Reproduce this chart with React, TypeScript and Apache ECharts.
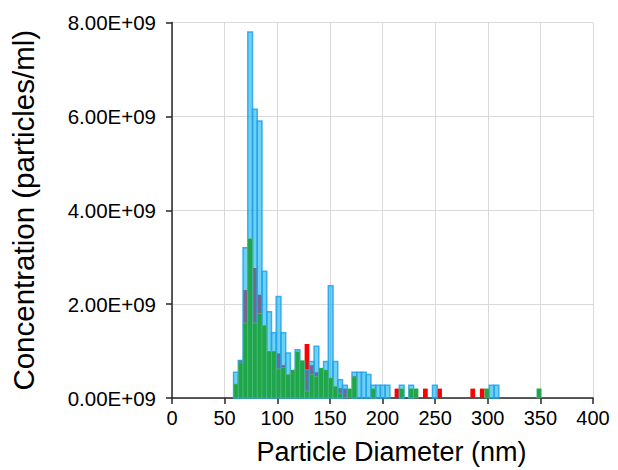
import React, { useEffect, useRef } from "react";
import * as echarts from "echarts";

// Bin centres (nm) and concentrations (particles/ml, in units of 1E+09) per sample
const redDiameters = [60.75, 65.25, 69.75, 74.25, 78.75, 83.25, 87.75, 92.25, 96.75, 101.25, 105.75, 110.25, 114.75, 119.25, 123.75, 128.25, 132.75, 137.25, 141.75, 146.25, 150.75, 159.75, 164.25, 173.25, 213.75, 240.75, 254.25, 285.75, 294.75];
const redConc = [0.3, 0.8, 2.3, 2.0, 2.77, 2.2, 1.3, 0.96, 0.9, 0.95, 0.7, 0.5, 0.45, 0.78, 0.75, 1.15, 0.7, 0.55, 0.35, 0.3, 0.25, 0.21, 0.2, 0.47, 0.2, 0.2, 0.2, 0.2, 0.2];

const blueDiameters = [60.75, 65.25, 69.75, 74.25, 78.75, 83.25, 87.75, 92.25, 96.75, 101.25, 105.75, 110.25, 114.75, 119.25, 123.75, 128.25, 132.75, 137.25, 141.75, 146.25, 150.75, 155.25, 159.75, 164.25, 173.25, 177.75, 182.25, 186.75, 191.25, 195.75, 200.25, 204.75, 218.25, 227.25, 249.75, 303.75, 308.25];
const blueConc = [0.55, 0.8, 3.2, 7.8, 6.15, 5.9, 2.7, 1.84, 1.39, 2.16, 1.39, 0.96, 0.46, 1.03, 0.78, 0.6, 0.78, 1.1, 0.52, 0.78, 2.39, 0.78, 0.39, 0.27, 0.55, 0.55, 0.55, 0.5, 0.27, 0.27, 0.27, 0.27, 0.27, 0.27, 0.27, 0.27, 0.27];

const greenDiameters = [60.75, 65.25, 69.75, 74.25, 78.75, 83.25, 87.75, 92.25, 96.75, 101.25, 105.75, 110.25, 114.75, 119.25, 123.75, 128.25, 132.75, 137.25, 141.75, 146.25, 150.75, 155.25, 159.75, 168.75, 173.25, 191.25, 218.25, 227.25, 231.75, 299.25, 348.75];
const greenConc = [0.3, 0.75, 1.6, 3.4, 1.6, 1.8, 1.55, 1.0, 1.0, 0.62, 0.65, 0.5, 0.6, 0.99, 0.8, 0.15, 0.5, 0.46, 0.64, 0.6, 0.43, 0.25, 0.1, 0.2, 0.45, 0.2, 0.2, 0.2, 0.2, 0.2, 0.2];

const BIN_WIDTH = 4.5;
const FONT = "'Liberation Sans', Arial, sans-serif";

function pairs(xs: number[], ys: number[]) {
  return xs.map((x, i) => [x, ys[i] * 1e9]);
}

function makeRender(style: any) {
  return (params: any, api: any) => {
    const c = api.value(0);
    const v = api.value(1);
    const p0 = api.coord([c - BIN_WIDTH / 2, v]);
    const p1 = api.coord([c + BIN_WIDTH / 2, 0]);
    return {
      type: "rect",
      shape: { x: p0[0], y: p0[1], width: p1[0] - p0[0], height: p1[1] - p0[1] },
      style,
    };
  };
}

export default function App() {
  const ref = useRef<HTMLDivElement>(null);
  useEffect(() => {
    if (!ref.current) return;
    const chart = echarts.init(ref.current, null, { renderer: "svg" });
    const axisLineStyle = { color: "#262626", width: 1.5 };
    chart.setOption({
      animation: false,
      backgroundColor: "#ffffff",
      grid: { left: 167, right: 25, top: 22.5, bottom: 71.7 },
      xAxis: {
        type: "value",
        min: 0,
        max: 400,
        interval: 50,
        name: "Particle Diameter (nm)",
        nameLocation: "middle",
        nameGap: 40,
        nameTextStyle: { fontSize: 27, color: "#000", fontFamily: FONT, padding: [0, 0, 0, 18] },
        axisLine: { show: true, onZero: false, lineStyle: axisLineStyle },
        axisTick: { show: true, length: 6, lineStyle: axisLineStyle },
        axisLabel: { fontSize: 20, color: "#000", margin: 10, fontFamily: FONT },
        splitLine: { show: true, lineStyle: { color: "#d9d9d9", width: 1 } },
      },
      yAxis: {
        type: "value",
        min: 0,
        max: 8e9,
        interval: 2e9,
        name: "Concentration (particles/ml)",
        nameLocation: "middle",
        nameGap: 134,
        nameTextStyle: { fontSize: 29.5, color: "#000", fontFamily: FONT },
        axisLine: { show: true, lineStyle: axisLineStyle },
        axisTick: { show: true, length: 6, lineStyle: axisLineStyle },
        axisLabel: {
          fontSize: 20.5,
          color: "#000",
          margin: 16,
          fontFamily: FONT,
          formatter: (v: number) => (v / 1e9).toFixed(2) + "E+09",
        },
        splitLine: { show: true, lineStyle: { color: "#d9d9d9", width: 1 } },
      },
      series: [
        {
          type: "custom",
          name: "red",
          renderItem: makeRender({ fill: "#ff0000" }),
          data: pairs(redDiameters, redConc),
          encode: { x: 0, y: 1 },
        },
        {
          type: "custom",
          name: "blue",
          renderItem: makeRender({
            fill: "rgba(20,175,237,0.6)",
            stroke: "rgba(30,165,235,0.85)",
            lineWidth: 1.5,
          }),
          data: pairs(blueDiameters, blueConc),
          encode: { x: 0, y: 1 },
        },
        {
          type: "custom",
          name: "green",
          renderItem: makeRender({
            fill: "#1fa54a",
            stroke: "rgba(110,205,135,0.8)",
            lineWidth: 0.5,
          }),
          data: pairs(greenDiameters, greenConc),
          encode: { x: 0, y: 1 },
        },
      ],
    });
    return () => chart.dispose();
  }, []);
  return (
    <div
      ref={ref}
      style={{ position: "absolute", left: 0, top: 0, width: 618, height: 470 }}
    />
  );
}
